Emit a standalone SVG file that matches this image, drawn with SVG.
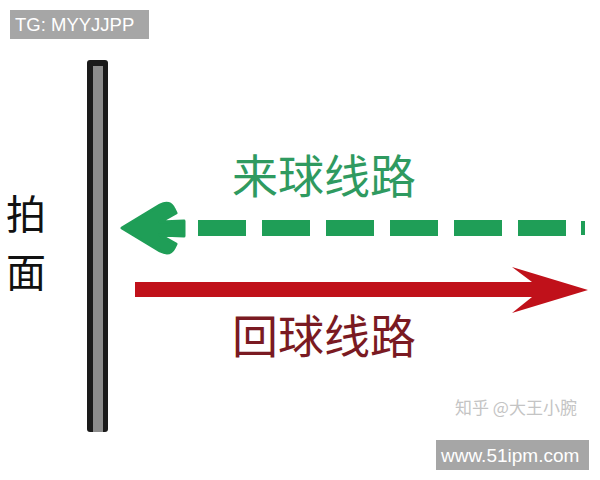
<svg xmlns="http://www.w3.org/2000/svg" width="600" height="480" viewBox="0 0 600 480">
<style>
.cjk{font-family:"Noto Sans CJK SC","Noto Sans",sans-serif;}
.lat{font-family:"Liberation Sans",Arial,sans-serif;}
.tag{fill:#a6a6a6;}
.tagt{fill:#ffffff;}
</style>
<rect width="600" height="480" fill="#ffffff"/>
<g id="tg-label">
<rect class="tag" x="10" y="10" width="139" height="29"/>
<text class="lat tagt" x="15" y="31" font-size="18.5">TG: MYYJJPP</text>
</g>
<g id="racket-face">
<rect x="87" y="60" width="21" height="372" rx="3" fill="#1a1a1a"/>
<rect x="93" y="66" width="10" height="366" fill="#8c8c8c"/>
<text class="cjk" x="6" y="229" font-size="40" fill="#111">拍</text>
<text class="cjk" x="6" y="287" font-size="40" fill="#111">面</text>
</g>
<g id="connectors">
<g id="incoming" fill="#1f9e57">
<path d="M122,228 L160,205 Q170,200 174,209 L176,213 L160,222 L184,221 L184,236 L160,235 L176,244 L174,248 Q170,256 160,251 Z" stroke="#1f9e57" stroke-width="3" stroke-linejoin="round"/>
<line x1="198" y1="228" x2="566" y2="228" stroke="#1f9e57" stroke-width="16" stroke-dasharray="48 16"/>
<rect x="581" y="221" width="4" height="14"/>
</g>
<g id="return" fill="#c0111a">
<path d="M135,282 L532,282 L512,267 L588,290 L512,313 L532,297 L135,297 Z"/>
</g>
</g>
<g id="labels">
<text class="cjk" x="232" y="193" font-size="46" fill="#2f9a60">来球线路</text>
<text class="cjk" x="232" y="353" font-size="46" fill="#7a1a22">回球线路</text>
</g>
<g id="watermarks">
<text class="cjk" x="455" y="414" font-size="17" fill="#c4c4c4">知乎 @大王小腕</text>
<rect class="tag" x="436" y="440" width="153" height="30"/>
<text class="lat tagt" x="441" y="462" font-size="19">www.51ipm.com</text>
</g>
</svg>
